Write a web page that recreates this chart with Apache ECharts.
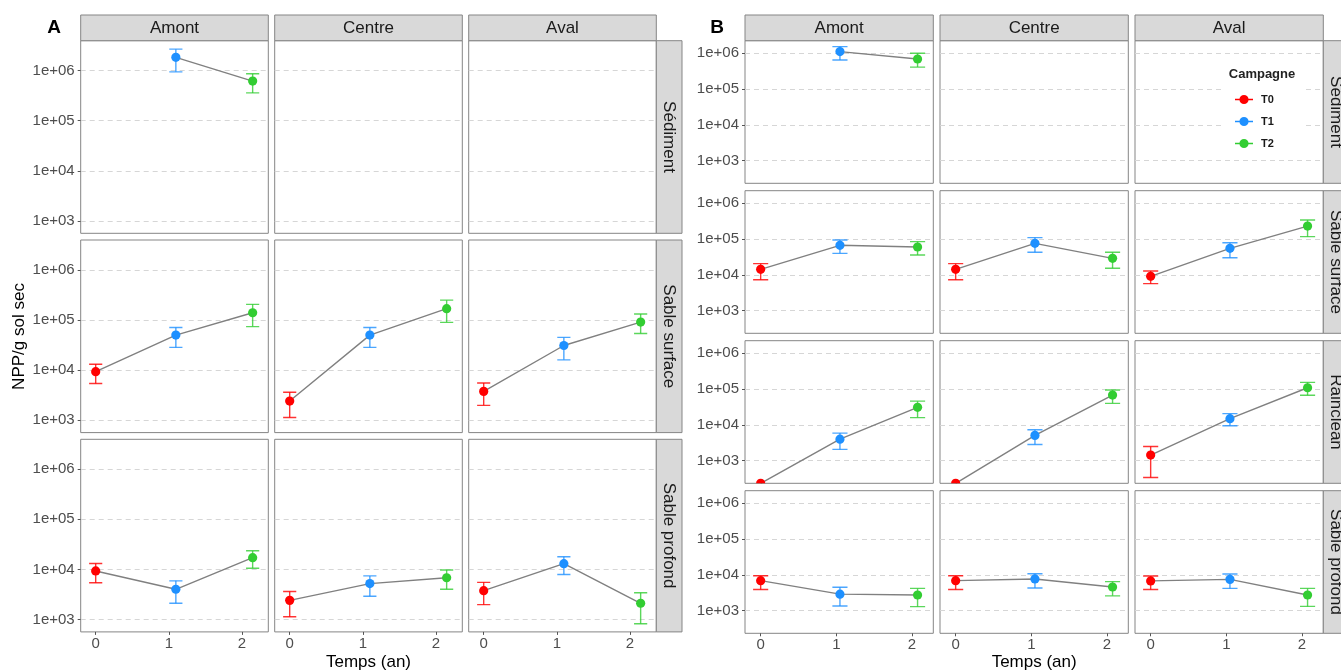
<!DOCTYPE html>
<html>
<head>
<meta charset="utf-8">
<script src="https://cdn.jsdelivr.net/npm/echarts@6/dist/echarts.min.js"></script>
<style>html,body{margin:0;padding:0;background:#fff;}#chart{width:1341px;height:672px;}</style>
</head>
<body>
<div id="chart"></div>
<script>
// ---------------- DATA ----------------
const COLUMNS = ['Amont', 'Centre', 'Aval'];
const ROWS_A = ['Sédiment', 'Sable surface', 'Sable profond'];
const ROWS_B = ['Sédiment', 'Sable surface', 'Rainclean', 'Sable profond'];
const CAMPAIGNS = ['T0', 'T1', 'T2'];
const TIMES = [0, 1, 2];
const X_TICKS = [0, 1, 2];
const Y_TICKS = [1e3, 1e4, 1e5, 1e6];
const Y_TICK_LABELS = ['1e+03', '1e+04', '1e+05', '1e+06'];
const Y_TITLE = 'NPP/g sol sec';
const X_TITLE = 'Temps (an)';
const LEGEND_TITLE = 'Campagne';

// Each array: [Amont, Centre, Aval] x [T0, T1, T2]  (NPP / g sol sec)
// Panel A
const A_SED_MEAN = [[null, 1.85e6, 6.2e5], [null, null, null], [null, null, null]];
const A_SED_LOW  = [[null, 9.5e5, 3.6e5],  [null, null, null], [null, null, null]];
const A_SED_HIGH = [[null, 2.7e6, 8.7e5],  [null, null, null], [null, null, null]];

const A_SURF_MEAN = [[9.3e3, 5.0e4, 1.4e5],  [2.4e3, 5.0e4, 1.69e5], [3.75e3, 3.1e4, 9.1e4]];
const A_SURF_LOW  = [[5.4e3, 2.84e4, 7.4e4], [1.13e3, 2.84e4, 9.0e4], [1.97e3, 1.6e4, 5.4e4]];
const A_SURF_HIGH = [[1.31e4, 7.1e4, 2.06e5],[3.6e3, 7.1e4, 2.5e5],   [5.5e3, 4.5e4, 1.32e5]];

const A_PROF_MEAN = [[9.3e3, 4.0e3, 1.71e4],  [2.4e3, 5.2e3, 6.8e3], [3.75e3, 1.3e4, 2.1e3]];
const A_PROF_LOW  = [[5.4e3, 2.1e3, 1.05e4],  [1.13e3, 2.9e3, 4.0e3],[1.97e3, 7.9e3, 8.2e2]];
const A_PROF_HIGH = [[1.31e4, 5.9e3, 2.36e4], [3.6e3, 7.4e3, 9.7e3], [5.5e3, 1.79e4, 3.4e3]];

// Panel B
const B_SED_MEAN = [[null, 1.11e6, 6.9e5], [null, null, null], [null, null, null]];
const B_SED_LOW  = [[null, 6.5e5, 4.1e5],  [null, null, null], [null, null, null]];
const B_SED_HIGH = [[null, 1.53e6, 1.0e6], [null, null, null], [null, null, null]];

const B_SURF_MEAN = [[1.43e4, 6.7e4, 6.0e4],  [1.43e4, 7.6e4, 2.9e4],  [9.1e3, 5.5e4, 2.3e5]];
const B_SURF_LOW  = [[7.3e3, 4.0e4, 3.6e4],   [7.3e3, 4.3e4, 1.53e4],  [5.7e3, 3.0e4, 1.17e5]];
const B_SURF_HIGH = [[2.06e4, 9.4e4, 8.5e4],  [2.06e4, 1.1e5, 4.3e4],  [1.29e4, 7.9e4, 3.4e5]];

const B_RAIN_MEAN = [[234, 4.0e3, 3.1e4],   [234, 5.1e3, 6.8e4],   [1.44e3, 1.49e4, 1.09e5]];
const B_RAIN_LOW  = [[null, 2.07e3, 1.6e4], [null, 2.85e3, 4.0e4], [3.4e2, 9.5e3, 6.7e4]];
const B_RAIN_HIGH = [[null, 5.9e3, 4.6e4],  [null, 7.3e3, 9.4e4],  [2.5e3, 2.06e4, 1.54e5]];

const B_PROF_MEAN = [[6.9e3, 2.9e3, 2.75e3], [6.9e3, 7.7e3, 4.6e3], [6.8e3, 7.5e3, 2.75e3]];
const B_PROF_LOW  = [[3.9e3, 1.35e3, 1.3e3], [3.9e3, 4.3e3, 2.6e3], [3.9e3, 4.2e3, 1.32e3]];
const B_PROF_HIGH = [[9.5e3, 4.5e3, 4.2e3],  [9.5e3, 1.08e4, 6.5e3],[9.3e3, 1.06e4, 4.2e3]];

// ---------------- STYLE / LAYOUT ----------------
const FONT = "'Liberation Sans', Arial, Helvetica, sans-serif";
const COLORS = ['#FF0000', '#1E90FF', '#32CD32'];
const BORDER = '#858585';
const STRIP_FILL = '#D9D9D9';
const LAYOUT_A = {
  rows: ROWS_A,
  data: [[A_SED_MEAN, A_SED_LOW, A_SED_HIGH], [A_SURF_MEAN, A_SURF_LOW, A_SURF_HIGH], [A_PROF_MEAN, A_PROF_LOW, A_PROF_HIGH]],
  colLeft: [80.7, 274.7, 468.7], colWidth: 187.6,
  rowTop: [40.7, 240, 439.3], rowHeight: 192.6,
  xMin: -0.205, xMax: 2.36, yMin: 2.75, yMax: 6.6,
  dodge: [0, 0.096, 0.146], capHalf: 0.09
};
const LAYOUT_B = {
  rows: ROWS_B,
  data: [[B_SED_MEAN, B_SED_LOW, B_SED_HIGH], [B_SURF_MEAN, B_SURF_LOW, B_SURF_HIGH], [B_RAIN_MEAN, B_RAIN_LOW, B_RAIN_HIGH], [B_PROF_MEAN, B_PROF_LOW, B_PROF_HIGH]],
  colLeft: [745, 940, 1135], colWidth: 188.3,
  rowTop: [40.7, 190.7, 340.7, 490.7], rowHeight: 142.6,
  xMin: -0.207, xMax: 2.282, yMin: 2.37, yMax: 6.35,
  dodge: [0, 0.048, 0.074], capHalf: 0.1
};
const STRIP_Y = 15;
const STRIP_SIZE = 25.7;

const grids = [], xAxes = [], yAxes = [], series = [], graphics = [];
const yTickLog = Y_TICKS.map(v => Math.log10(v));
function yLabel(v) {
  for (let i = 0; i < yTickLog.length; i++) if (Math.abs(v - yTickLog[i]) < 1e-6) return Y_TICK_LABELS[i];
  return '';
}

function makeRender(color, lo, hi, capHalf) {
  return function (params, api) {
    const x = api.value(0), y = api.value(1);
    const c = api.coord([x, y]);
    const children = [];
    if (lo != null && hi != null) {
      const l = Math.log10(lo), h = Math.log10(hi);
      const es = { stroke: color, lineWidth: 1.4, opacity: 0.8 };
      const p1 = api.coord([x, l]), p2 = api.coord([x, h]);
      const a1 = api.coord([x - capHalf, h]), a2 = api.coord([x + capHalf, h]);
      const b1 = api.coord([x - capHalf, l]), b2 = api.coord([x + capHalf, l]);
      children.push({ type: 'line', shape: { x1: p1[0], y1: p1[1], x2: p2[0], y2: p2[1] }, style: es });
      children.push({ type: 'line', shape: { x1: a1[0], y1: a1[1], x2: a2[0], y2: a2[1] }, style: es });
      children.push({ type: 'line', shape: { x1: b1[0], y1: b1[1], x2: b2[0], y2: b2[1] }, style: es });
    }
    children.push({ type: 'circle', shape: { cx: c[0], cy: c[1], r: 4.6 }, style: { fill: color } });
    return { type: 'group', children: children };
  };
}

function buildPanel(L) {
  const nRows = L.rows.length;
  for (let r = 0; r < nRows; r++) {
    const [MEAN, LOW, HIGH] = L.data[r];
    for (let c = 0; c < COLUMNS.length; c++) {
      const g = grids.length;
      const bottomRow = r === nRows - 1;
      const firstCol = c === 0;
      grids.push({ left: L.colLeft[c], top: L.rowTop[r], width: L.colWidth, height: L.rowHeight,
        show: true, borderColor: BORDER, borderWidth: 1, backgroundColor: '#fff', containLabel: false });
      xAxes.push({ type: 'value', gridIndex: g, min: L.xMin, max: L.xMax, position: 'bottom',
        axisLine: { show: false, onZero: false }, splitLine: { show: false },
        axisTick: { show: bottomRow, length: 3, customValues: X_TICKS, lineStyle: { color: '#555' } },
        axisLabel: { show: bottomRow, customValues: X_TICKS, margin: 4, fontSize: 15, color: '#4D4D4D', fontFamily: FONT } });
      yAxes.push({ type: 'value', gridIndex: g, min: L.yMin, max: L.yMax, position: 'left',
        axisLine: { show: false, onZero: false },
        axisTick: { show: firstCol, length: 3, customValues: yTickLog, lineStyle: { color: '#555' } },
        axisLabel: { show: firstCol, customValues: yTickLog, margin: 6, fontSize: 15, color: '#4D4D4D', fontFamily: FONT, formatter: yLabel },
        splitLine: { show: true, lineStyle: { color: '#D6D6D6', type: [5, 4], width: 1 } } });
      const linePts = [];
      for (let k = 0; k < CAMPAIGNS.length; k++) {
        const m = MEAN[c][k];
        if (m == null) continue;
        const x = TIMES[k] + L.dodge[k];
        linePts.push([x, Math.log10(m)]);
      }
      if (linePts.length) {
        series.push({ type: 'line', name: 'trend', xAxisIndex: g, yAxisIndex: g, data: linePts,
          symbol: 'none', silent: true, clip: true, z: 2,
          lineStyle: { color: '#808080', width: 1.4 } });
      }
      for (let k = 0; k < CAMPAIGNS.length; k++) {
        const m = MEAN[c][k];
        if (m == null) continue;
        const x = TIMES[k] + L.dodge[k];
        series.push({ type: 'custom', name: CAMPAIGNS[k], xAxisIndex: g, yAxisIndex: g, clip: true, z: 3,
          itemStyle: { color: COLORS[k] }, data: [[x, Math.log10(m)]],
          encode: { x: 0, y: 1 },
          renderItem: makeRender(COLORS[k], LOW[c][k], HIGH[c][k], L.capHalf) });
      }
    }
  }
  // strips
  for (let c = 0; c < COLUMNS.length; c++) {
    graphics.push({ type: 'rect', shape: { x: L.colLeft[c], y: STRIP_Y, width: L.colWidth, height: STRIP_SIZE },
      style: { fill: STRIP_FILL, stroke: BORDER, lineWidth: 1 } });
    graphics.push({ type: 'text', x: L.colLeft[c] + L.colWidth / 2, y: STRIP_Y + STRIP_SIZE / 2 + 0.5,
      style: { text: COLUMNS[c], fontSize: 17, fontFamily: FONT, fill: '#1A1A1A', align: 'center', verticalAlign: 'middle' } });
  }
  const rx = L.colLeft[2] + L.colWidth;
  for (let r = 0; r < nRows; r++) {
    graphics.push({ type: 'rect', shape: { x: rx, y: L.rowTop[r], width: STRIP_SIZE, height: L.rowHeight },
      style: { fill: STRIP_FILL, stroke: BORDER, lineWidth: 1 } });
    graphics.push({ type: 'text', x: rx + STRIP_SIZE / 2, y: L.rowTop[r] + L.rowHeight / 2, rotation: -Math.PI / 2,
      style: { text: L.rows[r], fontSize: 17, fontFamily: FONT, fill: '#1A1A1A', align: 'center', verticalAlign: 'middle' } });
  }
  const cx = (L.colLeft[0] + L.colLeft[2] + L.colWidth) / 2;
  graphics.push({ type: 'text', x: cx, y: 662,
    style: { text: X_TITLE, fontSize: 17, fontFamily: FONT, fill: '#000', align: 'center', verticalAlign: 'middle' } });
}

buildPanel(LAYOUT_A);
buildPanel(LAYOUT_B);

graphics.push({ type: 'text', x: 19, y: 336.5, rotation: Math.PI / 2,
  style: { text: Y_TITLE, fontSize: 17, fontFamily: FONT, fill: '#000', align: 'center', verticalAlign: 'middle' } });
graphics.push({ type: 'text', x: 54, y: 27.5,
  style: { text: 'A', fontSize: 19, fontWeight: 'bold', fontFamily: FONT, fill: '#000', align: 'center', verticalAlign: 'middle' } });
graphics.push({ type: 'text', x: 717, y: 27.5,
  style: { text: 'B', fontSize: 19, fontWeight: 'bold', fontFamily: FONT, fill: '#000', align: 'center', verticalAlign: 'middle' } });
// legend background + title
graphics.push({ type: 'rect', z: 5, shape: { x: 1222, y: 60, width: 84, height: 95 }, style: { fill: '#fff' } });
graphics.push({ type: 'text', z: 6, x: 1262, y: 74,
  style: { text: LEGEND_TITLE, fontSize: 13, fontWeight: 'bold', fontFamily: FONT, fill: '#222', align: 'center', verticalAlign: 'middle' } });

const ICON = 'path://M0,4.3L18,4.3L18,5.7L0,5.7Z M13.6,5A4.6,4.6,0,1,1,4.4,5A4.6,4.6,0,1,1,13.6,5Z';

const option = {
  backgroundColor: '#fff',
  animation: false,
  grid: grids,
  xAxis: xAxes,
  yAxis: yAxes,
  series: series,
  legend: {
    z: 10, orient: 'vertical', left: 1230, top: 89, itemWidth: 18, itemHeight: 10, itemGap: 11,
    selectedMode: false,
    data: CAMPAIGNS.map(n => ({ name: n, icon: ICON })),
    textStyle: { fontSize: 11, fontWeight: 'bold', fontFamily: FONT, color: '#1A1A1A', padding: [0, 0, 0, 3] }
  },
  graphic: { elements: graphics }
};

const chart = echarts.init(document.getElementById('chart'), null, { renderer: 'canvas' });
chart.setOption(option);
</script>
</body>
</html>
